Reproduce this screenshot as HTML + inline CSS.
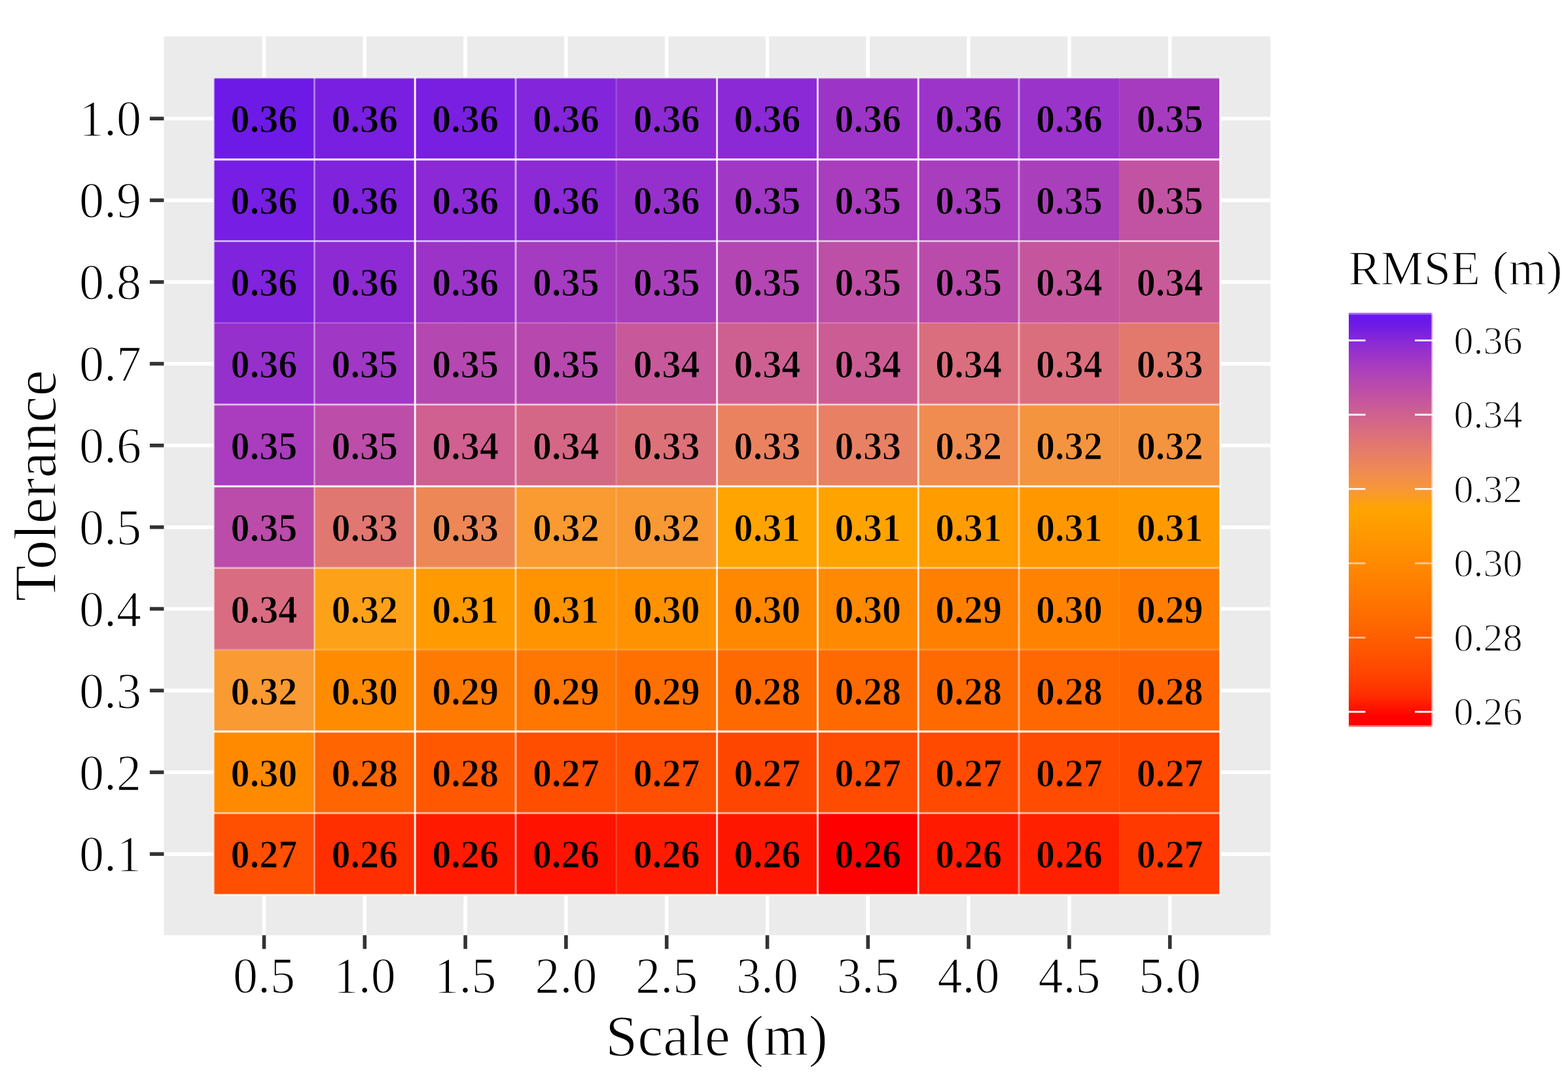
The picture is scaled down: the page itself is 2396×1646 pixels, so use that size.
<!DOCTYPE html>
<html><head><meta charset="utf-8"><title>RMSE heatmap</title>
<style>
html,body{margin:0;padding:0;background:#fff;}
body{width:2396px;height:1646px;overflow:hidden;}
svg{display:block;}
text{font-family:"Liberation Serif","Times New Roman",serif;fill:#000;}
.tl{font-size:60px;font-weight:bold;text-anchor:middle;stroke-width:1.15px;stroke-linejoin:round;}
.ax{font-size:76px;}
.er{stroke:#fff;stroke-width:1.4px;stroke-linejoin:round;}
.tt{font-size:88px;}
.yt{font-size:90px;}
.lt{font-size:74px;}
.ll{font-size:60px;}
</style></head><body>
<svg width="2396" height="1646" viewBox="0 0 2396 1646">
<rect width="2396" height="1646" fill="#fff"/>
<defs><linearGradient id="cb" x1="0" y1="0" x2="0" y2="1"><stop offset="0.0250" stop-color="#6b19e8"/><stop offset="0.0750" stop-color="#8d2bd4"/><stop offset="0.1250" stop-color="#a63bc0"/><stop offset="0.1750" stop-color="#b94bac"/><stop offset="0.2250" stop-color="#c95a98"/><stop offset="0.2750" stop-color="#d76a83"/><stop offset="0.3250" stop-color="#e3796e"/><stop offset="0.3750" stop-color="#ee8856"/><stop offset="0.4250" stop-color="#f79739"/><stop offset="0.4750" stop-color="#ffa400"/><stop offset="0.5250" stop-color="#ff9a00"/><stop offset="0.5750" stop-color="#ff9000"/><stop offset="0.6250" stop-color="#ff8500"/><stop offset="0.6750" stop-color="#ff7a00"/><stop offset="0.7250" stop-color="#ff6e00"/><stop offset="0.7750" stop-color="#ff6100"/><stop offset="0.8250" stop-color="#ff5300"/><stop offset="0.8750" stop-color="#ff4300"/><stop offset="0.9250" stop-color="#ff2d00"/><stop offset="0.9750" stop-color="#ff0000"/></linearGradient></defs>
<rect x="250.4" y="55.6" width="1690.8" height="1373.7" fill="#ebebeb"/>
<line x1="403.5" y1="55.6" x2="403.5" y2="1429.3" stroke="#fff" stroke-width="5.6"/>
<line x1="557.3" y1="55.6" x2="557.3" y2="1429.3" stroke="#fff" stroke-width="5.6"/>
<line x1="711.1" y1="55.6" x2="711.1" y2="1429.3" stroke="#fff" stroke-width="5.6"/>
<line x1="864.9" y1="55.6" x2="864.9" y2="1429.3" stroke="#fff" stroke-width="5.6"/>
<line x1="1018.7" y1="55.6" x2="1018.7" y2="1429.3" stroke="#fff" stroke-width="5.6"/>
<line x1="1172.5" y1="55.6" x2="1172.5" y2="1429.3" stroke="#fff" stroke-width="5.6"/>
<line x1="1326.3" y1="55.6" x2="1326.3" y2="1429.3" stroke="#fff" stroke-width="5.6"/>
<line x1="1480.1" y1="55.6" x2="1480.1" y2="1429.3" stroke="#fff" stroke-width="5.6"/>
<line x1="1633.9" y1="55.6" x2="1633.9" y2="1429.3" stroke="#fff" stroke-width="5.6"/>
<line x1="1787.7" y1="55.6" x2="1787.7" y2="1429.3" stroke="#fff" stroke-width="5.6"/>
<line x1="250.4" y1="181.2" x2="1941.2" y2="181.2" stroke="#fff" stroke-width="5.6"/>
<line x1="250.4" y1="306.1" x2="1941.2" y2="306.1" stroke="#fff" stroke-width="5.6"/>
<line x1="250.4" y1="431.0" x2="1941.2" y2="431.0" stroke="#fff" stroke-width="5.6"/>
<line x1="250.4" y1="555.9" x2="1941.2" y2="555.9" stroke="#fff" stroke-width="5.6"/>
<line x1="250.4" y1="680.8" x2="1941.2" y2="680.8" stroke="#fff" stroke-width="5.6"/>
<line x1="250.4" y1="805.7" x2="1941.2" y2="805.7" stroke="#fff" stroke-width="5.6"/>
<line x1="250.4" y1="930.5" x2="1941.2" y2="930.5" stroke="#fff" stroke-width="5.6"/>
<line x1="250.4" y1="1055.4" x2="1941.2" y2="1055.4" stroke="#fff" stroke-width="5.6"/>
<line x1="250.4" y1="1180.3" x2="1941.2" y2="1180.3" stroke="#fff" stroke-width="5.6"/>
<line x1="250.4" y1="1305.2" x2="1941.2" y2="1305.2" stroke="#fff" stroke-width="5.6"/>
<rect x="326.6" y="118.8" width="153.8" height="124.89" fill="#6d1ae7"/>
<rect x="480.4" y="118.8" width="153.8" height="124.89" fill="#791fe1"/>
<rect x="634.2" y="118.8" width="153.8" height="124.89" fill="#791fe1"/>
<rect x="788.0" y="118.8" width="153.8" height="124.89" fill="#8325db"/>
<rect x="941.8" y="118.8" width="153.8" height="124.89" fill="#8d2ad4"/>
<rect x="1095.6" y="118.8" width="153.8" height="124.89" fill="#8b29d6"/>
<rect x="1249.4" y="118.8" width="153.8" height="124.89" fill="#9d34c8"/>
<rect x="1403.2" y="118.8" width="153.8" height="124.89" fill="#9c34c9"/>
<rect x="1557.0" y="118.8" width="153.8" height="124.89" fill="#9a33ca"/>
<rect x="1710.8" y="118.8" width="153.8" height="124.89" fill="#a63bbf"/>
<rect x="326.6" y="243.7" width="153.8" height="124.89" fill="#761ee3"/>
<rect x="480.4" y="243.7" width="153.8" height="124.89" fill="#8023dc"/>
<rect x="634.2" y="243.7" width="153.8" height="124.89" fill="#8b29d6"/>
<rect x="788.0" y="243.7" width="153.8" height="124.89" fill="#8c2ad5"/>
<rect x="941.8" y="243.7" width="153.8" height="124.89" fill="#9630cd"/>
<rect x="1095.6" y="243.7" width="153.8" height="124.89" fill="#a037c5"/>
<rect x="1249.4" y="243.7" width="153.8" height="124.89" fill="#a93dbd"/>
<rect x="1403.2" y="243.7" width="153.8" height="124.89" fill="#a83dbe"/>
<rect x="1557.0" y="243.7" width="153.8" height="124.89" fill="#aa3fbc"/>
<rect x="1710.8" y="243.7" width="153.8" height="124.89" fill="#c253a2"/>
<rect x="326.6" y="368.5" width="153.8" height="124.89" fill="#8023dc"/>
<rect x="480.4" y="368.5" width="153.8" height="124.89" fill="#8d2ad4"/>
<rect x="634.2" y="368.5" width="153.8" height="124.89" fill="#9b33c9"/>
<rect x="788.0" y="368.5" width="153.8" height="124.89" fill="#a53bc0"/>
<rect x="941.8" y="368.5" width="153.8" height="124.89" fill="#a93ebd"/>
<rect x="1095.6" y="368.5" width="153.8" height="124.89" fill="#b346b2"/>
<rect x="1249.4" y="368.5" width="153.8" height="124.89" fill="#be4fa6"/>
<rect x="1403.2" y="368.5" width="153.8" height="124.89" fill="#ba4bab"/>
<rect x="1557.0" y="368.5" width="153.8" height="124.89" fill="#c5569e"/>
<rect x="1710.8" y="368.5" width="153.8" height="124.89" fill="#c95a98"/>
<rect x="326.6" y="493.4" width="153.8" height="124.89" fill="#9630cd"/>
<rect x="480.4" y="493.4" width="153.8" height="124.89" fill="#a037c5"/>
<rect x="634.2" y="493.4" width="153.8" height="124.89" fill="#b548b0"/>
<rect x="788.0" y="493.4" width="153.8" height="124.89" fill="#b749ae"/>
<rect x="941.8" y="493.4" width="153.8" height="124.89" fill="#c7589a"/>
<rect x="1095.6" y="493.4" width="153.8" height="124.89" fill="#ce6091"/>
<rect x="1249.4" y="493.4" width="153.8" height="124.89" fill="#cc5d94"/>
<rect x="1403.2" y="493.4" width="153.8" height="124.89" fill="#da6d7e"/>
<rect x="1557.0" y="493.4" width="153.8" height="124.89" fill="#db6e7d"/>
<rect x="1710.8" y="493.4" width="153.8" height="124.89" fill="#e3796d"/>
<rect x="326.6" y="618.3" width="153.8" height="124.89" fill="#a93dbd"/>
<rect x="480.4" y="618.3" width="153.8" height="124.89" fill="#bc4ea9"/>
<rect x="634.2" y="618.3" width="153.8" height="124.89" fill="#cf6090"/>
<rect x="788.0" y="618.3" width="153.8" height="124.89" fill="#d56786"/>
<rect x="941.8" y="618.3" width="153.8" height="124.89" fill="#dd7179"/>
<rect x="1095.6" y="618.3" width="153.8" height="124.89" fill="#ea8260"/>
<rect x="1249.4" y="618.3" width="153.8" height="124.89" fill="#e88063"/>
<rect x="1403.2" y="618.3" width="153.8" height="124.89" fill="#f08c4f"/>
<rect x="1557.0" y="618.3" width="153.8" height="124.89" fill="#f5943e"/>
<rect x="1710.8" y="618.3" width="153.8" height="124.89" fill="#f5943e"/>
<rect x="326.6" y="743.2" width="153.8" height="124.89" fill="#bb4caa"/>
<rect x="480.4" y="743.2" width="153.8" height="124.89" fill="#e17771"/>
<rect x="634.2" y="743.2" width="153.8" height="124.89" fill="#ed8856"/>
<rect x="788.0" y="743.2" width="153.8" height="124.89" fill="#f99b30"/>
<rect x="941.8" y="743.2" width="153.8" height="124.89" fill="#f89933"/>
<rect x="1095.6" y="743.2" width="153.8" height="124.89" fill="#ffa400"/>
<rect x="1249.4" y="743.2" width="153.8" height="124.89" fill="#ffa300"/>
<rect x="1403.2" y="743.2" width="153.8" height="124.89" fill="#ff9c00"/>
<rect x="1557.0" y="743.2" width="153.8" height="124.89" fill="#ff9800"/>
<rect x="1710.8" y="743.2" width="153.8" height="124.89" fill="#ff9a00"/>
<rect x="326.6" y="868.1" width="153.8" height="124.89" fill="#d96c80"/>
<rect x="480.4" y="868.1" width="153.8" height="124.89" fill="#fda218"/>
<rect x="634.2" y="868.1" width="153.8" height="124.89" fill="#ff9a00"/>
<rect x="788.0" y="868.1" width="153.8" height="124.89" fill="#ff9300"/>
<rect x="941.8" y="868.1" width="153.8" height="124.89" fill="#ff9200"/>
<rect x="1095.6" y="868.1" width="153.8" height="124.89" fill="#ff8800"/>
<rect x="1249.4" y="868.1" width="153.8" height="124.89" fill="#ff8900"/>
<rect x="1403.2" y="868.1" width="153.8" height="124.89" fill="#ff7f00"/>
<rect x="1557.0" y="868.1" width="153.8" height="124.89" fill="#ff8300"/>
<rect x="1710.8" y="868.1" width="153.8" height="124.89" fill="#ff7d00"/>
<rect x="326.6" y="993.0" width="153.8" height="124.89" fill="#f99a32"/>
<rect x="480.4" y="993.0" width="153.8" height="124.89" fill="#ff8b00"/>
<rect x="634.2" y="993.0" width="153.8" height="124.89" fill="#ff7a00"/>
<rect x="788.0" y="993.0" width="153.8" height="124.89" fill="#ff7600"/>
<rect x="941.8" y="993.0" width="153.8" height="124.89" fill="#ff7000"/>
<rect x="1095.6" y="993.0" width="153.8" height="124.89" fill="#ff6a00"/>
<rect x="1249.4" y="993.0" width="153.8" height="124.89" fill="#ff6a00"/>
<rect x="1403.2" y="993.0" width="153.8" height="124.89" fill="#ff6a00"/>
<rect x="1557.0" y="993.0" width="153.8" height="124.89" fill="#ff6800"/>
<rect x="1710.8" y="993.0" width="153.8" height="124.89" fill="#ff6500"/>
<rect x="326.6" y="1117.9" width="153.8" height="124.89" fill="#ff8a00"/>
<rect x="480.4" y="1117.9" width="153.8" height="124.89" fill="#ff6500"/>
<rect x="634.2" y="1117.9" width="153.8" height="124.89" fill="#ff5800"/>
<rect x="788.0" y="1117.9" width="153.8" height="124.89" fill="#ff4e00"/>
<rect x="941.8" y="1117.9" width="153.8" height="124.89" fill="#ff4f00"/>
<rect x="1095.6" y="1117.9" width="153.8" height="124.89" fill="#ff4600"/>
<rect x="1249.4" y="1117.9" width="153.8" height="124.89" fill="#ff4c00"/>
<rect x="1403.2" y="1117.9" width="153.8" height="124.89" fill="#ff4a00"/>
<rect x="1557.0" y="1117.9" width="153.8" height="124.89" fill="#ff4c00"/>
<rect x="1710.8" y="1117.9" width="153.8" height="124.89" fill="#ff4a00"/>
<rect x="326.6" y="1242.8" width="153.8" height="124.89" fill="#ff4f00"/>
<rect x="480.4" y="1242.8" width="153.8" height="124.89" fill="#ff2f00"/>
<rect x="634.2" y="1242.8" width="153.8" height="124.89" fill="#ff1a00"/>
<rect x="788.0" y="1242.8" width="153.8" height="124.89" fill="#ff1200"/>
<rect x="941.8" y="1242.8" width="153.8" height="124.89" fill="#ff1b00"/>
<rect x="1095.6" y="1242.8" width="153.8" height="124.89" fill="#ff1600"/>
<rect x="1249.4" y="1242.8" width="153.8" height="124.89" fill="#ff0000"/>
<rect x="1403.2" y="1242.8" width="153.8" height="124.89" fill="#ff1a00"/>
<rect x="1557.0" y="1242.8" width="153.8" height="124.89" fill="#ff2000"/>
<rect x="1710.8" y="1242.8" width="153.8" height="124.89" fill="#ff3900"/>
<line x1="326.6" y1="118.76" x2="326.6" y2="1367.7" stroke="#fff" stroke-opacity="0.45" stroke-width="3"/>
<line x1="480.4" y1="118.76" x2="480.4" y2="1367.7" stroke="#fff" stroke-opacity="0.35" stroke-width="3"/>
<line x1="634.2" y1="118.76" x2="634.2" y2="1367.7" stroke="#fff" stroke-opacity="0.95" stroke-width="3"/>
<line x1="788.0" y1="118.76" x2="788.0" y2="1367.7" stroke="#fff" stroke-opacity="0.55" stroke-width="3"/>
<line x1="941.8" y1="118.76" x2="941.8" y2="1367.7" stroke="#fff" stroke-opacity="0.1" stroke-width="3"/>
<line x1="1095.6" y1="118.76" x2="1095.6" y2="1367.7" stroke="#fff" stroke-opacity="0.8" stroke-width="3"/>
<line x1="1249.4" y1="118.76" x2="1249.4" y2="1367.7" stroke="#fff" stroke-opacity="0.8" stroke-width="3"/>
<line x1="1403.2" y1="118.76" x2="1403.2" y2="1367.7" stroke="#fff" stroke-opacity="0.8" stroke-width="3"/>
<line x1="1557.0" y1="118.76" x2="1557.0" y2="1367.7" stroke="#fff" stroke-opacity="0.5" stroke-width="3"/>
<line x1="1710.8" y1="118.76" x2="1710.8" y2="1367.7" stroke="#fff" stroke-opacity="0.0" stroke-width="3"/>
<line x1="1864.6" y1="118.76" x2="1864.6" y2="1367.7" stroke="#fff" stroke-opacity="0.85" stroke-width="3"/>
<line x1="326.6" y1="118.8" x2="1864.6" y2="118.8" stroke="#fff" stroke-opacity="0.55" stroke-width="3"/>
<line x1="326.6" y1="243.7" x2="1864.6" y2="243.7" stroke="#fff" stroke-opacity="1.0" stroke-width="3"/>
<line x1="326.6" y1="368.5" x2="1864.6" y2="368.5" stroke="#fff" stroke-opacity="0.6" stroke-width="3"/>
<line x1="326.6" y1="493.4" x2="1864.6" y2="493.4" stroke="#fff" stroke-opacity="0.1" stroke-width="3"/>
<line x1="326.6" y1="618.3" x2="1864.6" y2="618.3" stroke="#fff" stroke-opacity="0.6" stroke-width="3"/>
<line x1="326.6" y1="743.2" x2="1864.6" y2="743.2" stroke="#fff" stroke-opacity="0.95" stroke-width="3"/>
<line x1="326.6" y1="868.1" x2="1864.6" y2="868.1" stroke="#fff" stroke-opacity="0.5" stroke-width="3"/>
<line x1="326.6" y1="993.0" x2="1864.6" y2="993.0" stroke="#fff" stroke-opacity="0.2" stroke-width="3"/>
<line x1="326.6" y1="1117.9" x2="1864.6" y2="1117.9" stroke="#fff" stroke-opacity="1.0" stroke-width="3"/>
<line x1="326.6" y1="1242.8" x2="1864.6" y2="1242.8" stroke="#fff" stroke-opacity="0.6" stroke-width="3"/>
<line x1="326.6" y1="1367.7" x2="1864.6" y2="1367.7" stroke="#fff" stroke-opacity="0.8" stroke-width="3"/>
<text transform="translate(403.5,202.4) scale(0.97,1.035)" class="tl" stroke="#6d1ae7">0.36</text>
<text transform="translate(557.3,202.4) scale(0.97,1.035)" class="tl" stroke="#791fe1">0.36</text>
<text transform="translate(711.1,202.4) scale(0.97,1.035)" class="tl" stroke="#791fe1">0.36</text>
<text transform="translate(864.9,202.4) scale(0.97,1.035)" class="tl" stroke="#8325db">0.36</text>
<text transform="translate(1018.7,202.4) scale(0.97,1.035)" class="tl" stroke="#8d2ad4">0.36</text>
<text transform="translate(1172.5,202.4) scale(0.97,1.035)" class="tl" stroke="#8b29d6">0.36</text>
<text transform="translate(1326.3,202.4) scale(0.97,1.035)" class="tl" stroke="#9d34c8">0.36</text>
<text transform="translate(1480.1,202.4) scale(0.97,1.035)" class="tl" stroke="#9c34c9">0.36</text>
<text transform="translate(1633.9,202.4) scale(0.97,1.035)" class="tl" stroke="#9a33ca">0.36</text>
<text transform="translate(1787.7,202.4) scale(0.97,1.035)" class="tl" stroke="#a63bbf">0.35</text>
<text transform="translate(403.5,327.3) scale(0.97,1.035)" class="tl" stroke="#761ee3">0.36</text>
<text transform="translate(557.3,327.3) scale(0.97,1.035)" class="tl" stroke="#8023dc">0.36</text>
<text transform="translate(711.1,327.3) scale(0.97,1.035)" class="tl" stroke="#8b29d6">0.36</text>
<text transform="translate(864.9,327.3) scale(0.97,1.035)" class="tl" stroke="#8c2ad5">0.36</text>
<text transform="translate(1018.7,327.3) scale(0.97,1.035)" class="tl" stroke="#9630cd">0.36</text>
<text transform="translate(1172.5,327.3) scale(0.97,1.035)" class="tl" stroke="#a037c5">0.35</text>
<text transform="translate(1326.3,327.3) scale(0.97,1.035)" class="tl" stroke="#a93dbd">0.35</text>
<text transform="translate(1480.1,327.3) scale(0.97,1.035)" class="tl" stroke="#a83dbe">0.35</text>
<text transform="translate(1633.9,327.3) scale(0.97,1.035)" class="tl" stroke="#aa3fbc">0.35</text>
<text transform="translate(1787.7,327.3) scale(0.97,1.035)" class="tl" stroke="#c253a2">0.35</text>
<text transform="translate(403.5,452.2) scale(0.97,1.035)" class="tl" stroke="#8023dc">0.36</text>
<text transform="translate(557.3,452.2) scale(0.97,1.035)" class="tl" stroke="#8d2ad4">0.36</text>
<text transform="translate(711.1,452.2) scale(0.97,1.035)" class="tl" stroke="#9b33c9">0.36</text>
<text transform="translate(864.9,452.2) scale(0.97,1.035)" class="tl" stroke="#a53bc0">0.35</text>
<text transform="translate(1018.7,452.2) scale(0.97,1.035)" class="tl" stroke="#a93ebd">0.35</text>
<text transform="translate(1172.5,452.2) scale(0.97,1.035)" class="tl" stroke="#b346b2">0.35</text>
<text transform="translate(1326.3,452.2) scale(0.97,1.035)" class="tl" stroke="#be4fa6">0.35</text>
<text transform="translate(1480.1,452.2) scale(0.97,1.035)" class="tl" stroke="#ba4bab">0.35</text>
<text transform="translate(1633.9,452.2) scale(0.97,1.035)" class="tl" stroke="#c5569e">0.34</text>
<text transform="translate(1787.7,452.2) scale(0.97,1.035)" class="tl" stroke="#c95a98">0.34</text>
<text transform="translate(403.5,577.1) scale(0.97,1.035)" class="tl" stroke="#9630cd">0.36</text>
<text transform="translate(557.3,577.1) scale(0.97,1.035)" class="tl" stroke="#a037c5">0.35</text>
<text transform="translate(711.1,577.1) scale(0.97,1.035)" class="tl" stroke="#b548b0">0.35</text>
<text transform="translate(864.9,577.1) scale(0.97,1.035)" class="tl" stroke="#b749ae">0.35</text>
<text transform="translate(1018.7,577.1) scale(0.97,1.035)" class="tl" stroke="#c7589a">0.34</text>
<text transform="translate(1172.5,577.1) scale(0.97,1.035)" class="tl" stroke="#ce6091">0.34</text>
<text transform="translate(1326.3,577.1) scale(0.97,1.035)" class="tl" stroke="#cc5d94">0.34</text>
<text transform="translate(1480.1,577.1) scale(0.97,1.035)" class="tl" stroke="#da6d7e">0.34</text>
<text transform="translate(1633.9,577.1) scale(0.97,1.035)" class="tl" stroke="#db6e7d">0.34</text>
<text transform="translate(1787.7,577.1) scale(0.97,1.035)" class="tl" stroke="#e3796d">0.33</text>
<text transform="translate(403.5,702.0) scale(0.97,1.035)" class="tl" stroke="#a93dbd">0.35</text>
<text transform="translate(557.3,702.0) scale(0.97,1.035)" class="tl" stroke="#bc4ea9">0.35</text>
<text transform="translate(711.1,702.0) scale(0.97,1.035)" class="tl" stroke="#cf6090">0.34</text>
<text transform="translate(864.9,702.0) scale(0.97,1.035)" class="tl" stroke="#d56786">0.34</text>
<text transform="translate(1018.7,702.0) scale(0.97,1.035)" class="tl" stroke="#dd7179">0.33</text>
<text transform="translate(1172.5,702.0) scale(0.97,1.035)" class="tl" stroke="#ea8260">0.33</text>
<text transform="translate(1326.3,702.0) scale(0.97,1.035)" class="tl" stroke="#e88063">0.33</text>
<text transform="translate(1480.1,702.0) scale(0.97,1.035)" class="tl" stroke="#f08c4f">0.32</text>
<text transform="translate(1633.9,702.0) scale(0.97,1.035)" class="tl" stroke="#f5943e">0.32</text>
<text transform="translate(1787.7,702.0) scale(0.97,1.035)" class="tl" stroke="#f5943e">0.32</text>
<text transform="translate(403.5,826.9) scale(0.97,1.035)" class="tl" stroke="#bb4caa">0.35</text>
<text transform="translate(557.3,826.9) scale(0.97,1.035)" class="tl" stroke="#e17771">0.33</text>
<text transform="translate(711.1,826.9) scale(0.97,1.035)" class="tl" stroke="#ed8856">0.33</text>
<text transform="translate(864.9,826.9) scale(0.97,1.035)" class="tl" stroke="#f99b30">0.32</text>
<text transform="translate(1018.7,826.9) scale(0.97,1.035)" class="tl" stroke="#f89933">0.32</text>
<text transform="translate(1172.5,826.9) scale(0.97,1.035)" class="tl" stroke="#ffa400">0.31</text>
<text transform="translate(1326.3,826.9) scale(0.97,1.035)" class="tl" stroke="#ffa300">0.31</text>
<text transform="translate(1480.1,826.9) scale(0.97,1.035)" class="tl" stroke="#ff9c00">0.31</text>
<text transform="translate(1633.9,826.9) scale(0.97,1.035)" class="tl" stroke="#ff9800">0.31</text>
<text transform="translate(1787.7,826.9) scale(0.97,1.035)" class="tl" stroke="#ff9a00">0.31</text>
<text transform="translate(403.5,951.7) scale(0.97,1.035)" class="tl" stroke="#d96c80">0.34</text>
<text transform="translate(557.3,951.7) scale(0.97,1.035)" class="tl" stroke="#fda218">0.32</text>
<text transform="translate(711.1,951.7) scale(0.97,1.035)" class="tl" stroke="#ff9a00">0.31</text>
<text transform="translate(864.9,951.7) scale(0.97,1.035)" class="tl" stroke="#ff9300">0.31</text>
<text transform="translate(1018.7,951.7) scale(0.97,1.035)" class="tl" stroke="#ff9200">0.30</text>
<text transform="translate(1172.5,951.7) scale(0.97,1.035)" class="tl" stroke="#ff8800">0.30</text>
<text transform="translate(1326.3,951.7) scale(0.97,1.035)" class="tl" stroke="#ff8900">0.30</text>
<text transform="translate(1480.1,951.7) scale(0.97,1.035)" class="tl" stroke="#ff7f00">0.29</text>
<text transform="translate(1633.9,951.7) scale(0.97,1.035)" class="tl" stroke="#ff8300">0.30</text>
<text transform="translate(1787.7,951.7) scale(0.97,1.035)" class="tl" stroke="#ff7d00">0.29</text>
<text transform="translate(403.5,1076.6) scale(0.97,1.035)" class="tl" stroke="#f99a32">0.32</text>
<text transform="translate(557.3,1076.6) scale(0.97,1.035)" class="tl" stroke="#ff8b00">0.30</text>
<text transform="translate(711.1,1076.6) scale(0.97,1.035)" class="tl" stroke="#ff7a00">0.29</text>
<text transform="translate(864.9,1076.6) scale(0.97,1.035)" class="tl" stroke="#ff7600">0.29</text>
<text transform="translate(1018.7,1076.6) scale(0.97,1.035)" class="tl" stroke="#ff7000">0.29</text>
<text transform="translate(1172.5,1076.6) scale(0.97,1.035)" class="tl" stroke="#ff6a00">0.28</text>
<text transform="translate(1326.3,1076.6) scale(0.97,1.035)" class="tl" stroke="#ff6a00">0.28</text>
<text transform="translate(1480.1,1076.6) scale(0.97,1.035)" class="tl" stroke="#ff6a00">0.28</text>
<text transform="translate(1633.9,1076.6) scale(0.97,1.035)" class="tl" stroke="#ff6800">0.28</text>
<text transform="translate(1787.7,1076.6) scale(0.97,1.035)" class="tl" stroke="#ff6500">0.28</text>
<text transform="translate(403.5,1201.5) scale(0.97,1.035)" class="tl" stroke="#ff8a00">0.30</text>
<text transform="translate(557.3,1201.5) scale(0.97,1.035)" class="tl" stroke="#ff6500">0.28</text>
<text transform="translate(711.1,1201.5) scale(0.97,1.035)" class="tl" stroke="#ff5800">0.28</text>
<text transform="translate(864.9,1201.5) scale(0.97,1.035)" class="tl" stroke="#ff4e00">0.27</text>
<text transform="translate(1018.7,1201.5) scale(0.97,1.035)" class="tl" stroke="#ff4f00">0.27</text>
<text transform="translate(1172.5,1201.5) scale(0.97,1.035)" class="tl" stroke="#ff4600">0.27</text>
<text transform="translate(1326.3,1201.5) scale(0.97,1.035)" class="tl" stroke="#ff4c00">0.27</text>
<text transform="translate(1480.1,1201.5) scale(0.97,1.035)" class="tl" stroke="#ff4a00">0.27</text>
<text transform="translate(1633.9,1201.5) scale(0.97,1.035)" class="tl" stroke="#ff4c00">0.27</text>
<text transform="translate(1787.7,1201.5) scale(0.97,1.035)" class="tl" stroke="#ff4a00">0.27</text>
<text transform="translate(403.5,1326.4) scale(0.97,1.035)" class="tl" stroke="#ff4f00">0.27</text>
<text transform="translate(557.3,1326.4) scale(0.97,1.035)" class="tl" stroke="#ff2f00">0.26</text>
<text transform="translate(711.1,1326.4) scale(0.97,1.035)" class="tl" stroke="#ff1a00">0.26</text>
<text transform="translate(864.9,1326.4) scale(0.97,1.035)" class="tl" stroke="#ff1200">0.26</text>
<text transform="translate(1018.7,1326.4) scale(0.97,1.035)" class="tl" stroke="#ff1b00">0.26</text>
<text transform="translate(1172.5,1326.4) scale(0.97,1.035)" class="tl" stroke="#ff1600">0.26</text>
<text transform="translate(1326.3,1326.4) scale(0.97,1.035)" class="tl" stroke="#ff0000">0.26</text>
<text transform="translate(1480.1,1326.4) scale(0.97,1.035)" class="tl" stroke="#ff1a00">0.26</text>
<text transform="translate(1633.9,1326.4) scale(0.97,1.035)" class="tl" stroke="#ff2000">0.26</text>
<text transform="translate(1787.7,1326.4) scale(0.97,1.035)" class="tl" stroke="#ff3900">0.27</text>
<line x1="403.5" y1="1429.3" x2="403.5" y2="1450.3" stroke="#333" stroke-width="5.6"/>
<line x1="557.3" y1="1429.3" x2="557.3" y2="1450.3" stroke="#333" stroke-width="5.6"/>
<line x1="711.1" y1="1429.3" x2="711.1" y2="1450.3" stroke="#333" stroke-width="5.6"/>
<line x1="864.9" y1="1429.3" x2="864.9" y2="1450.3" stroke="#333" stroke-width="5.6"/>
<line x1="1018.7" y1="1429.3" x2="1018.7" y2="1450.3" stroke="#333" stroke-width="5.6"/>
<line x1="1172.5" y1="1429.3" x2="1172.5" y2="1450.3" stroke="#333" stroke-width="5.6"/>
<line x1="1326.3" y1="1429.3" x2="1326.3" y2="1450.3" stroke="#333" stroke-width="5.6"/>
<line x1="1480.1" y1="1429.3" x2="1480.1" y2="1450.3" stroke="#333" stroke-width="5.6"/>
<line x1="1633.9" y1="1429.3" x2="1633.9" y2="1450.3" stroke="#333" stroke-width="5.6"/>
<line x1="1787.7" y1="1429.3" x2="1787.7" y2="1450.3" stroke="#333" stroke-width="5.6"/>
<line x1="228.9" y1="181.2" x2="250.4" y2="181.2" stroke="#333" stroke-width="5.6"/>
<line x1="228.9" y1="306.1" x2="250.4" y2="306.1" stroke="#333" stroke-width="5.6"/>
<line x1="228.9" y1="431.0" x2="250.4" y2="431.0" stroke="#333" stroke-width="5.6"/>
<line x1="228.9" y1="555.9" x2="250.4" y2="555.9" stroke="#333" stroke-width="5.6"/>
<line x1="228.9" y1="680.8" x2="250.4" y2="680.8" stroke="#333" stroke-width="5.6"/>
<line x1="228.9" y1="805.7" x2="250.4" y2="805.7" stroke="#333" stroke-width="5.6"/>
<line x1="228.9" y1="930.5" x2="250.4" y2="930.5" stroke="#333" stroke-width="5.6"/>
<line x1="228.9" y1="1055.4" x2="250.4" y2="1055.4" stroke="#333" stroke-width="5.6"/>
<line x1="228.9" y1="1180.3" x2="250.4" y2="1180.3" stroke="#333" stroke-width="5.6"/>
<line x1="228.9" y1="1305.2" x2="250.4" y2="1305.2" stroke="#333" stroke-width="5.6"/>
<text transform="translate(403.5,1516.5) scale(1,1.035)" class="ax er" text-anchor="middle">0.5</text>
<text transform="translate(557.3,1516.5) scale(1,1.035)" class="ax er" text-anchor="middle">1.0</text>
<text transform="translate(711.1,1516.5) scale(1,1.035)" class="ax er" text-anchor="middle">1.5</text>
<text transform="translate(864.9,1516.5) scale(1,1.035)" class="ax er" text-anchor="middle">2.0</text>
<text transform="translate(1018.7,1516.5) scale(1,1.035)" class="ax er" text-anchor="middle">2.5</text>
<text transform="translate(1172.5,1516.5) scale(1,1.035)" class="ax er" text-anchor="middle">3.0</text>
<text transform="translate(1326.3,1516.5) scale(1,1.035)" class="ax er" text-anchor="middle">3.5</text>
<text transform="translate(1480.1,1516.5) scale(1,1.035)" class="ax er" text-anchor="middle">4.0</text>
<text transform="translate(1633.9,1516.5) scale(1,1.035)" class="ax er" text-anchor="middle">4.5</text>
<text transform="translate(1787.7,1516.5) scale(1,1.035)" class="ax er" text-anchor="middle">5.0</text>
<text transform="translate(216,207.4) scale(1,1.035)" class="ax er" text-anchor="end">1.0</text>
<text transform="translate(216,332.3) scale(1,1.035)" class="ax er" text-anchor="end">0.9</text>
<text transform="translate(216,457.2) scale(1,1.035)" class="ax er" text-anchor="end">0.8</text>
<text transform="translate(216,582.1) scale(1,1.035)" class="ax er" text-anchor="end">0.7</text>
<text transform="translate(216,707.0) scale(1,1.035)" class="ax er" text-anchor="end">0.6</text>
<text transform="translate(216,831.9) scale(1,1.035)" class="ax er" text-anchor="end">0.5</text>
<text transform="translate(216,956.7) scale(1,1.035)" class="ax er" text-anchor="end">0.4</text>
<text transform="translate(216,1081.6) scale(1,1.035)" class="ax er" text-anchor="end">0.3</text>
<text transform="translate(216,1206.5) scale(1,1.035)" class="ax er" text-anchor="end">0.2</text>
<text transform="translate(216,1331.4) scale(1,1.035)" class="ax er" text-anchor="end">0.1</text>
<text x="1095" y="1613" class="tt er" text-anchor="middle">Scale (m)</text>
<text transform="translate(85,742.4) rotate(-90)" class="yt er" text-anchor="middle">Tolerance</text>
<text x="2060.5" y="435.2" class="lt er">RMSE (m)</text>
<rect x="2061" y="478" width="128" height="633" fill="url(#cb)"/>
<rect x="2061" y="478" width="128" height="2.8" fill="#fff" fill-opacity="0.38"/>
<rect x="2187" y="478" width="2" height="633" fill="#fff" fill-opacity="0.5"/>
<rect x="2061" y="1108.5" width="128" height="2.5" fill="#fff" fill-opacity="0.5"/>
<line x1="2061" y1="520.3" x2="2086.5" y2="520.3" stroke="#fff" stroke-opacity="1" stroke-width="2.8"/>
<line x1="2162" y1="520.3" x2="2189" y2="520.3" stroke="#fff" stroke-opacity="1" stroke-width="2.8"/>
<text transform="translate(2221.5,540.8) scale(1,1.035)" class="ll er">0.36</text>
<line x1="2061" y1="633.8" x2="2086.5" y2="633.8" stroke="#fff" stroke-opacity="1" stroke-width="2.8"/>
<line x1="2162" y1="633.8" x2="2189" y2="633.8" stroke="#fff" stroke-opacity="1" stroke-width="2.8"/>
<text transform="translate(2221.5,654.3) scale(1,1.035)" class="ll er">0.34</text>
<line x1="2061" y1="747.3" x2="2086.5" y2="747.3" stroke="#fff" stroke-opacity="0.95" stroke-width="2.8"/>
<line x1="2162" y1="747.3" x2="2189" y2="747.3" stroke="#fff" stroke-opacity="0.95" stroke-width="2.8"/>
<text transform="translate(2221.5,767.8) scale(1,1.035)" class="ll er">0.32</text>
<line x1="2061" y1="860.9" x2="2086.5" y2="860.9" stroke="#fff" stroke-opacity="0.55" stroke-width="2.8"/>
<line x1="2162" y1="860.9" x2="2189" y2="860.9" stroke="#fff" stroke-opacity="0.55" stroke-width="2.8"/>
<text transform="translate(2221.5,881.4) scale(1,1.035)" class="ll er">0.30</text>
<line x1="2061" y1="974.4" x2="2086.5" y2="974.4" stroke="#fff" stroke-opacity="0.55" stroke-width="2.8"/>
<line x1="2162" y1="974.4" x2="2189" y2="974.4" stroke="#fff" stroke-opacity="0.55" stroke-width="2.8"/>
<text transform="translate(2221.5,994.9) scale(1,1.035)" class="ll er">0.28</text>
<line x1="2061" y1="1087.9" x2="2086.5" y2="1087.9" stroke="#fff" stroke-opacity="1" stroke-width="2.8"/>
<line x1="2162" y1="1087.9" x2="2189" y2="1087.9" stroke="#fff" stroke-opacity="1" stroke-width="2.8"/>
<text transform="translate(2221.5,1108.4) scale(1,1.035)" class="ll er">0.26</text>
</svg>
</body></html>
